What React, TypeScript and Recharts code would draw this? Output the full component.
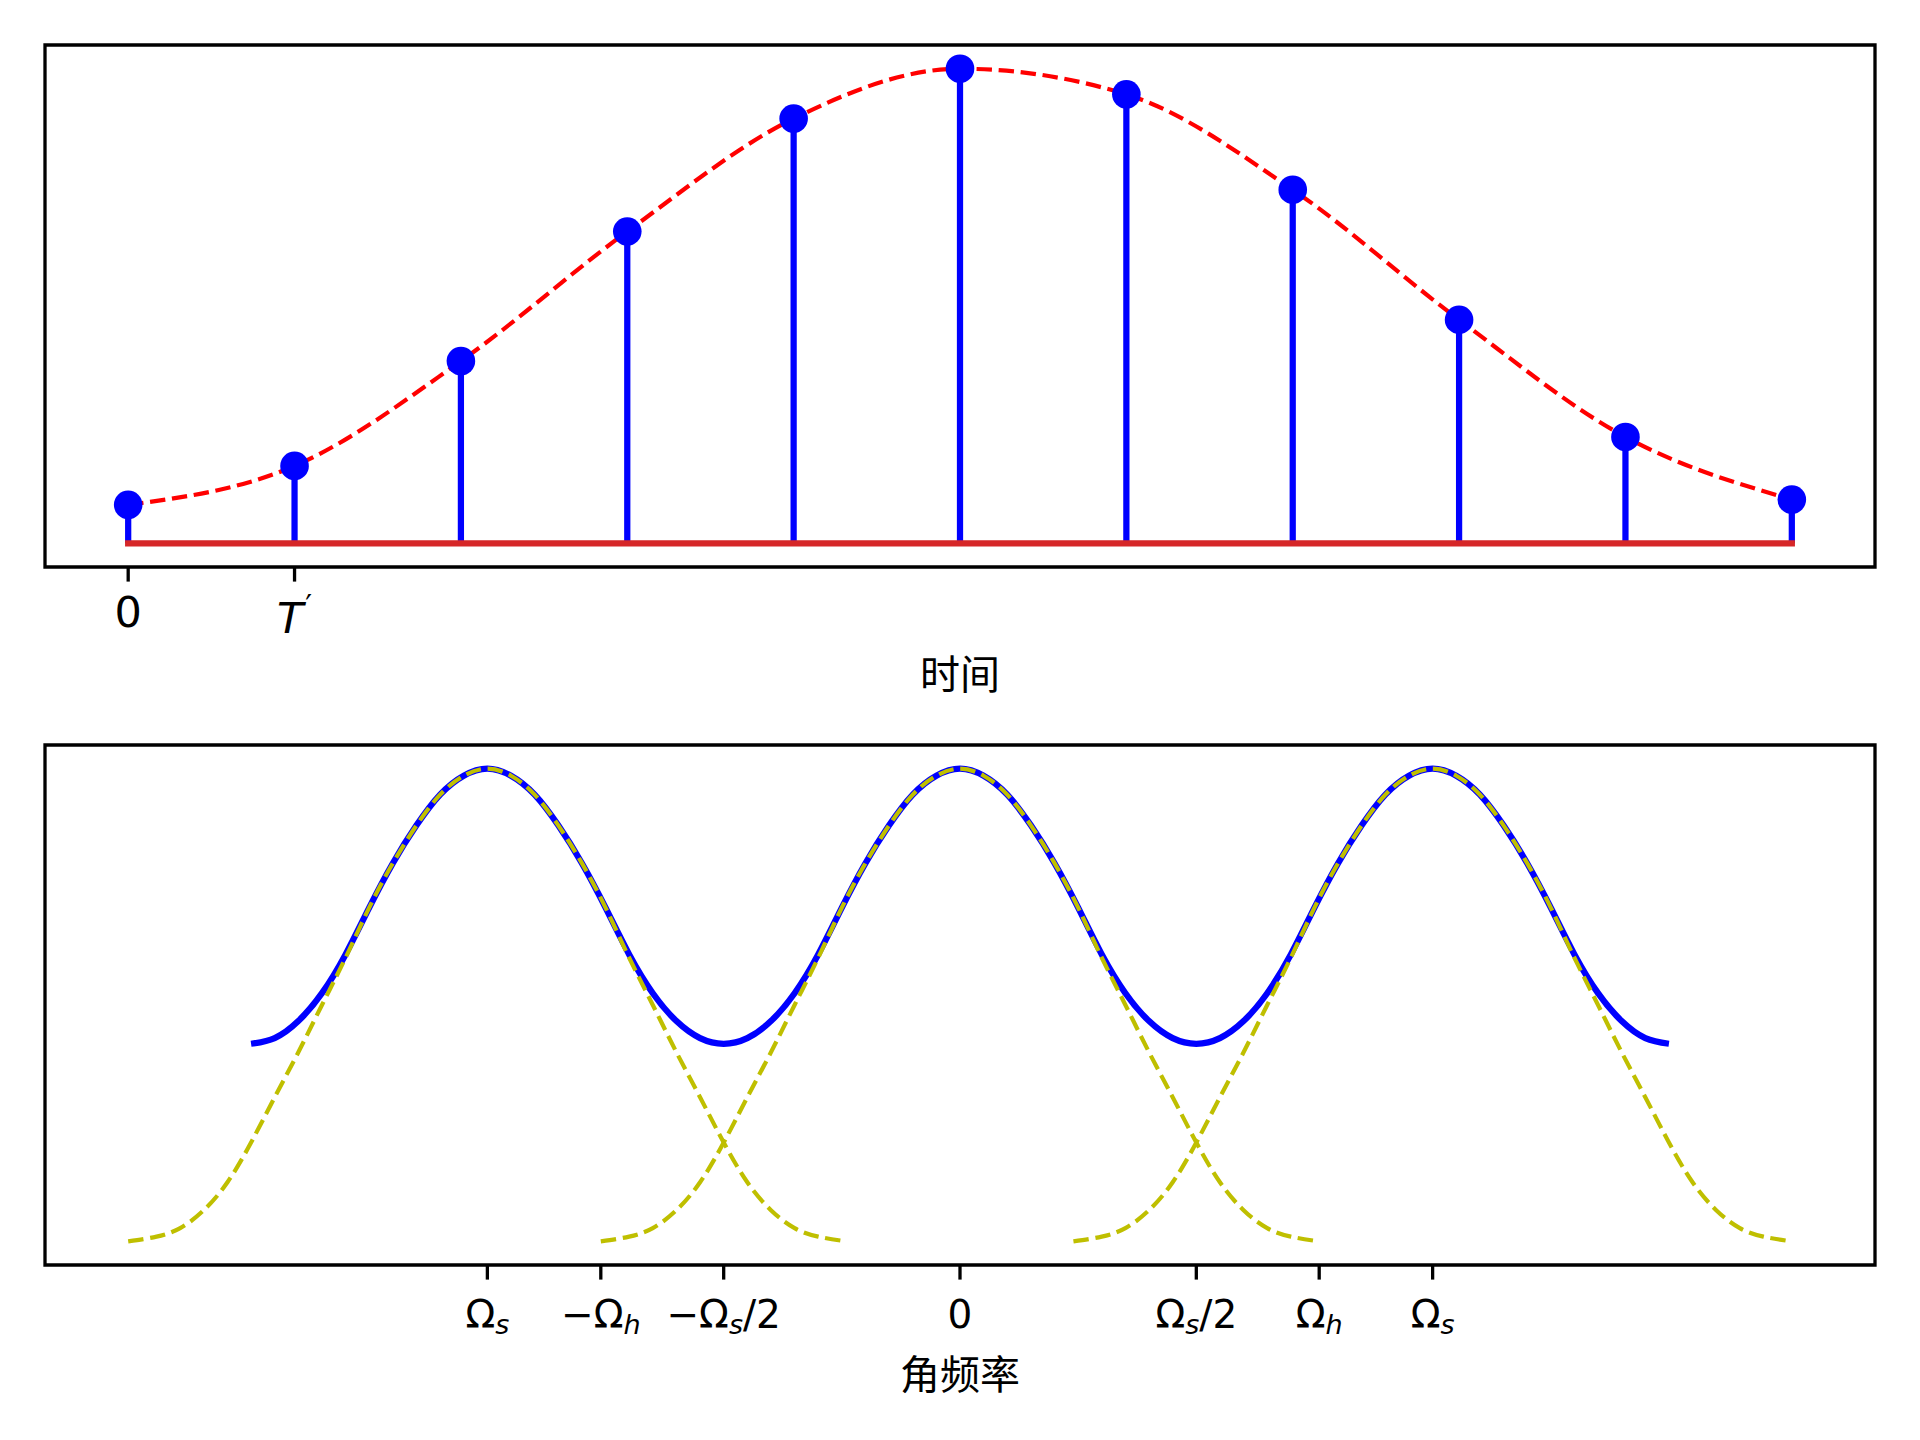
import React from 'react';
import { ComposedChart, Line, Scatter, XAxis, YAxis, ReferenceLine, ReferenceArea } from 'recharts';

// ---------- top panel: sampled signal ----------
const sampleTimes = [0, 1, 2, 3, 4, 5, 6, 7, 8, 9, 10];
const sampleValues = [0.081, 0.163, 0.384, 0.657, 0.895, 1.0, 0.946, 0.745, 0.471, 0.224, 0.092];
const timeTicks = [0, 1];
const timeTickLabels = ['0', 'T'];
const timeAxisTitle = '时间';

// ---------- bottom panel: spectrum ----------
const replicaCenters = [-1, 0, 1];
const replicaOffsets = [0, 0.05, 0.1, 0.15, 0.2, 0.25, 0.3, 0.35, 0.4, 0.45, 0.5, 0.55, 0.6, 0.65, 0.7, 0.76];
const replicaValues = [1.0, 0.985, 0.945, 0.88, 0.8, 0.706, 0.6, 0.5, 0.4, 0.305, 0.209, 0.125, 0.066, 0.028, 0.01, 0.0];
const sumOffsets = [0, 0.05, 0.1, 0.15, 0.2, 0.25, 0.3, 0.35, 0.4, 0.45, 0.5];
const sumValues = [1.0, 0.985, 0.945, 0.88, 0.8, 0.706, 0.607, 0.525, 0.466, 0.43, 0.418];
const freqTicks = [-1, -0.76, -0.5, 0, 0.5, 0.76, 1];
const freqTickMain = ['Ω', '−Ω', '−Ω', '0', 'Ω', 'Ω', 'Ω'];
const freqTickSub = ['s', 'h', 's', '', 's', 'h', 's'];
const freqTickTail = ['', '', '/2', '', '/2', '', ''];
const freqAxisTitle = '角频率';

// ---------- derived tables ----------
const sampleData = sampleTimes.map((t, i) => ({ x: t, v: sampleValues[i] }));

const mirror = (offs: number[], vals: number[]) => {
  const left = offs.slice(1).map((d, i) => ({ d: -d, v: vals[i + 1] })).reverse();
  const right = offs.map((d, i) => ({ d, v: vals[i] }));
  return [...left, ...right];
};
const replicaShape = mirror(replicaOffsets, replicaValues);
const replicaSeries = replicaCenters.map((c) => replicaShape.map((p) => ({ x: c + p.d, v: p.v })));
const sumPeriod = mirror(sumOffsets, sumValues);
const sumData: { x: number; v: number }[] = [];
replicaCenters.forEach((c, ci) => {
  sumPeriod.forEach((p, pi) => {
    if (ci > 0 && pi === 0) return;
    sumData.push({ x: c + p.d, v: p.v });
  });
});

const FONT = '"DejaVu Sans", "Noto Sans", sans-serif';
const CJK = '"Noto Sans CJK SC", "DejaVu Sans", sans-serif';

const TopTick = (props: any) => {
  const { x, y, payload } = props;
  const idx = timeTicks.indexOf(payload.value);
  if (idx === 0) {
    return (
      <text x={x} y={y + 45.4} textAnchor="middle" fontSize={43} fontFamily={FONT} fill="#000">
        {timeTickLabels[idx]}
      </text>
    );
  }
  return (
    <text x={x} y={y + 51.4} textAnchor="middle" fontSize={43} fontFamily={FONT} fill="#000">
      <tspan fontStyle="italic">{timeTickLabels[idx]}</tspan>
      <tspan fontSize={30} dx={2} dy={-17}>′</tspan>
    </text>
  );
};

const BottomTick = (props: any) => {
  const { x, y, payload } = props;
  const idx = freqTicks.indexOf(payload.value);
  if (idx < 0) return null;
  const sub = freqTickSub[idx];
  const tail = freqTickTail[idx];
  return (
    <text x={x} y={y + 48.4} textAnchor="middle" fontSize={39} fontFamily={FONT} fill="#000">
      <tspan>{freqTickMain[idx]}</tspan>
      {sub ? (
        <tspan fontSize={27} fontStyle="italic" dy={5.5}>
          {sub}
        </tspan>
      ) : null}
      {tail ? (
        <tspan fontSize={39} dy={-5.5}>
          {tail}
        </tspan>
      ) : null}
    </text>
  );
};

const AxisTitle = (props: any) => {
  const vb = props.viewBox || { x: 0, y: 0, width: 0 };
  return (
    <text
      x={vb.x + vb.width / 2}
      y={vb.y + props.shiftY}
      textAnchor="middle"
      fontSize={40}
      fontFamily={CJK}
      fill="#000"
    >
      {props.title}
    </text>
  );
};

const Dot = (props: any) => <circle cx={props.cx} cy={props.cy} r={14.3} fill="#0000ff" />;

export default function App() {
  return (
    <div style={{ position: 'absolute', left: 0, top: 0, width: 1920, height: 1440, background: '#fff' }}>
      <div style={{ position: 'absolute', left: 0, top: 0 }}>
        <ComposedChart width={1920} height={720} margin={{ top: 45, right: 45, bottom: 93, left: 45 }}>
          <XAxis
            type="number"
            dataKey="x"
            domain={[-0.5, 10.5]}
            ticks={timeTicks}
            interval={0}
            allowDataOverflow
            height={60}
            axisLine={false}
            tickSize={14.6}
            tickMargin={0}
            tickLine={{ stroke: '#000', strokeWidth: 3.3 }}
            tick={<TopTick />}
            label={<AxisTitle title={timeAxisTitle} shiftY={122} />}
          />
          <YAxis type="number" hide domain={[-0.05, 1.05]} allowDataOverflow />
          <ReferenceArea x1={-0.5} x2={10.5} y1={-0.05} y2={1.05} fill="none" stroke="#000" strokeWidth={3.3} ifOverflow="visible" />
          <Line
            data={sampleData}
            dataKey="v"
            type="monotoneX"
            stroke="#ff0000"
            strokeWidth={4.2}
            strokeDasharray="15.4 6.7"
            dot={false}
            isAnimationActive={false}
          />
          {sampleData.map((p) => (
            <ReferenceLine
              key={'stem' + p.x}
              segment={[
                { x: p.x, y: 0 },
                { x: p.x, y: p.v },
              ]}
              stroke="#0000ff"
              strokeWidth={6.25}
              ifOverflow="visible"
            />
          ))}
          <ReferenceLine
            segment={[
              { x: sampleTimes[0], y: 0 },
              { x: sampleTimes[sampleTimes.length - 1], y: 0 },
            ]}
            stroke="#d62728"
            strokeWidth={6.25}
            strokeLinecap="square"
            ifOverflow="visible"
          />
          <Scatter data={sampleData} dataKey="v" shape={<Dot />} isAnimationActive={false} />
        </ComposedChart>
      </div>
      <div style={{ position: 'absolute', left: 0, top: 720 }}>
        <ComposedChart width={1920} height={720} margin={{ top: 25, right: 45, bottom: 115, left: 45 }}>
          <XAxis
            type="number"
            dataKey="x"
            domain={[-1.936, 1.936]}
            ticks={freqTicks}
            interval={0}
            allowDataOverflow
            height={60}
            axisLine={false}
            tickSize={14.6}
            tickMargin={0}
            tickLine={{ stroke: '#000', strokeWidth: 3.3 }}
            tick={<BottomTick />}
            label={<AxisTitle title={freqAxisTitle} shiftY={124} />}
          />
          <YAxis type="number" hide domain={[-0.05, 1.05]} allowDataOverflow />
          <ReferenceArea x1={-1.936} x2={1.936} y1={-0.05} y2={1.05} fill="none" stroke="#000" strokeWidth={3.3} ifOverflow="visible" />
          <Line
            data={sumData}
            dataKey="v"
            type="natural"
            stroke="#0000ff"
            strokeWidth={6.25}
            dot={false}
            isAnimationActive={false}
          />
          {replicaSeries.map((s, i) => (
            <Line
              key={'rep' + i}
              data={s}
              dataKey="v"
              type="natural"
              stroke="#bfbf00"
              strokeWidth={4.2}
              strokeDasharray="15.4 6.7"
              dot={false}
              isAnimationActive={false}
            />
          ))}
        </ComposedChart>
      </div>
    </div>
  );
}
